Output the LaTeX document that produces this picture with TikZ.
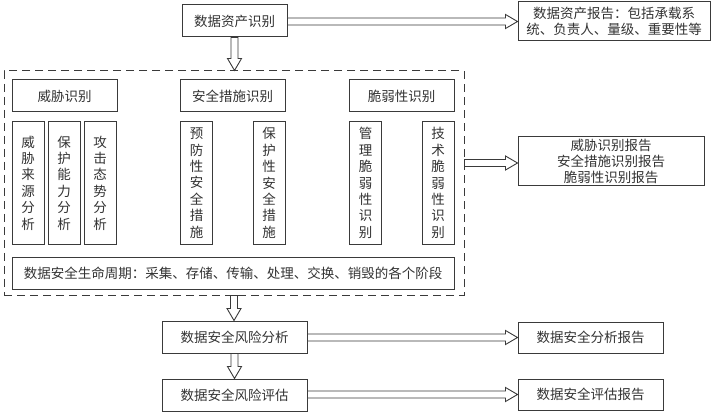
\documentclass[tikz,border=0pt]{standalone}
\usepackage{fontspec}
\setmainfont{Noto Sans CJK SC}
\usetikzlibrary{calc}
\definecolor{ln}{HTML}{3A3A3A}
\definecolor{tx}{HTML}{333333}
\tikzset{
  box/.style={draw=ln, line width=1pt, fill=white, inner sep=0pt, align=center,
    text=tx, font=\fontsize{13.5}{16.4}\selectfont},
  hx/.style={draw=ln, line width=0.9pt, fill=white,
    to path={let \p1=(\tikztostart), \p2=(\tikztotarget) in
      (\x1,\y2+3.5pt) -- (\x2-12pt,\y2+3.5pt) -- (\x2-12pt,\y2+7pt) -- (\x2,\y2)
      -- (\x2-12pt,\y2-7pt) -- (\x2-12pt,\y2-3.5pt) -- (\x1,\y2-3.5pt) -- cycle}},
  hy/.style={draw=ln, line width=0.9pt, fill=white,
    to path={let \p1=(\tikztostart), \p2=(\tikztotarget) in
      (\x1-3.5pt,\y1) -- (\x1-3.5pt,\y2+12pt) -- (\x1-7pt,\y2+12pt) -- (\x1,\y2)
      -- (\x1+7pt,\y2+12pt) -- (\x1+3.5pt,\y2+12pt) -- (\x1+3.5pt,\y1) -- cycle}},
  dbox/.style={draw=ln, line width=1pt, dash pattern=on 8pt off 5pt, inner sep=0pt}
}
\begin{document}
\begin{tikzpicture}[x=1pt, y=-1pt]
\useasboundingbox[fill=white] (0,0) rectangle (712,414);

% dashed container
\node[dbox, minimum width=460pt, minimum height=224pt] (grp) at (234,183) {};

% top
\node[box, minimum width=105pt, minimum height=32pt] (top) at (234.5,21) {数据资产识别};
\node[box, minimum width=192pt, minimum height=39pt] (rep1) at (614,21.5) {数据资产报告：包括承载系\\统、负责人、量级、重要性等};

% headers
\node[box, minimum width=105pt, minimum height=32pt] (h1) at (64.5,96) {威胁识别};
\node[box, minimum width=105pt, minimum height=32pt] (h2) at (232.5,96) {安全措施识别};
\node[box, minimum width=105pt, minimum height=32pt] (h3) at (401.5,96) {脆弱性识别};

% vertical boxes
\node[box, minimum width=32pt, minimum height=122pt] (v1) at (28,183) {威\\胁\\来\\源\\分\\析};
\node[box, minimum width=32pt, minimum height=122pt] (v2) at (64,183) {保\\护\\能\\力\\分\\析};
\node[box, minimum width=32pt, minimum height=122pt] (v3) at (100,183) {攻\\击\\态\\势\\分\\析};
\node[box, minimum width=32pt, minimum height=122pt] (v4) at (196.5,183) {预\\防\\性\\安\\全\\措\\施};
\node[box, minimum width=32pt, minimum height=122pt] (v5) at (269,183) {保\\护\\性\\安\\全\\措\\施};
\node[box, minimum width=32pt, minimum height=122pt] (v6) at (365.5,183) {管\\理\\脆\\弱\\性\\识\\别};
\node[box, minimum width=32pt, minimum height=122pt] (v7) at (438,183) {技\\术\\脆\\弱\\性\\识\\别};

% lifecycle
\node[box, minimum width=442pt, minimum height=32pt] (life) at (233,273) {数据安全生命周期：采集、存储、传输、处理、交换、销毁的各个阶段};

% right report
\node[box, minimum width=186pt, minimum height=49pt] (rep2) at (611,161.5) {威胁识别报告\\安全措施识别报告\\脆弱性识别报告};

% bottom
\node[box, minimum width=145pt, minimum height=32pt] (risk1) at (234.5,337) {数据安全风险分析};
\node[box, minimum width=145pt, minimum height=32pt] (risk2) at (234.5,395) {数据安全风险评估};
\node[box, minimum width=145pt, minimum height=31pt] (rep3) at (590.5,337.5) {数据安全分析报告};
\node[box, minimum width=145pt, minimum height=31pt] (rep4) at (590.5,394.5) {数据安全评估报告};

% arrows
\path[hx] (top.east) to (rep1.west);
\path[hy] (top.south) to (grp.north);
\coordinate (g163) at ($(rep2.west)+(0,1.5)$);
\path[hx] (grp.east) to (g163);
\path[hy] (grp.south) to (risk1.north);
\path[hy] (risk1.south) to (risk2.north);
\path[hx] (risk1.east) to (rep3.west);
\path[hx] (risk2.east) to (rep4.west);
\end{tikzpicture}
\end{document}
